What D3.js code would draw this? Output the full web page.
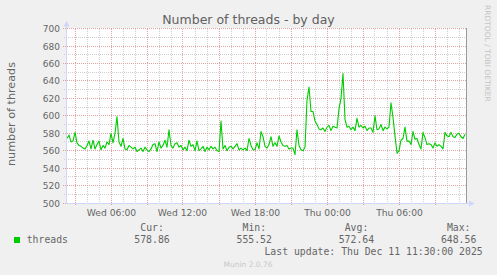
<!DOCTYPE html>
<html><head><meta charset="utf-8">
<script src="https://cdn.jsdelivr.net/npm/d3@7"></script>
<style>html,body{margin:0;padding:0;background:#f0f0f0;overflow:hidden}</style>
</head><body>
<svg id="c" width="497" height="275"></svg>
<script>
// ---------- data ----------
const chartTitle = "Number of threads - by day";
const yAxisTitle = "number of threads";
const watermark = "RRDTOOL / TOBI OETIKER";
const footer = "Munin 2.0.76";
const yTickValues = [500, 520, 540, 560, 580, 600, 620, 640, 660, 680, 700];
const xTickTimes = ["2025-12-10T06:00:00Z", "2025-12-10T12:00:00Z", "2025-12-10T18:00:00Z", "2025-12-11T00:00:00Z", "2025-12-11T06:00:00Z"];
const xTickLabels = ["Wed 06:00", "Wed 12:00", "Wed 18:00", "Thu 00:00", "Thu 06:00"];
const seriesName = "threads";
const seriesStart = "2025-12-10T02:20:00Z";
const seriesStepMinutes = 10;
const threads = [
  574, 578, 570, 571, 581, 569, 566, 565, 563, 562,
  566, 571, 562, 572, 562, 567, 571, 561, 566, 563,
  570, 567, 580, 569, 580, 599, 570, 565, 574, 562,
  561, 566, 564, 562, 564, 559, 561, 563, 559, 564,
  561, 559, 562, 567, 568, 559, 570, 563, 566, 572,
  564, 584, 566, 563, 568, 569, 564, 566, 561, 564,
  560, 572, 565, 567, 560, 571, 560, 562, 565, 559,
  564, 561, 565, 562, 564, 560, 559, 594, 562, 566,
  560, 564, 565, 562, 565, 568, 561, 563, 561, 563,
  560, 574, 566, 561, 561, 569, 562, 582, 576, 565,
  563, 567, 576, 565, 569, 565, 577, 570, 566, 565,
  566, 562, 563, 563, 555.52, 584, 566, 561, 560, 564,
  618, 633, 605, 605, 594, 590, 585, 584, 586, 582,
  587, 589, 583, 588, 587, 586, 608, 620, 648.56, 596,
  587, 588, 584, 587, 583, 597, 587, 589, 586, 588,
  583, 586, 586, 581, 600, 584, 585, 590, 583, 587,
  585, 587, 615, 598, 577, 557, 560, 572, 574, 587,
  571, 571, 567, 582, 573, 574, 567, 562, 581, 575,
  567, 568, 567, 563, 569, 565, 567, 565, 562, 581,
  577, 576, 581, 576, 575, 579, 580, 576, 574, 578.86
];
const legendHeaders = ["Cur:", "Min:", "Avg:", "Max:"];
const legendValues = ["578.86", "555.52", "572.64", "648.56"];
const lastUpdate = "Last update: Thu Dec 11 11:30:00 2025";

// ---------- drawing ----------
const svg = d3.select("#c");
const sans = "'DejaVu Sans', Verdana, sans-serif";
const mono = "'DejaVu Sans Mono', monospace";
const fontColor = "#666666";
const axisColor = "#CFD6F8";

const t0 = new Date(Date.UTC(2025, 11, 10, 2, 15));
const t1 = new Date(t0.getTime() + 400 * 300 * 1000);
const x = d3.scaleUtc().domain([t0, t1]).range([66, 466]);
const y = d3.scaleLinear().domain([500, 700]).range([203, 28.6]);
const snap = v => Math.round(v - 0.5) + 0.5;

svg.append("rect").attr("width", 497).attr("height", 275).attr("fill", "#f0f0f0");
svg.append("rect").attr("x", 66).attr("y", 28).attr("width", 401).attr("height", 175.5).attr("fill", "#ffffff");

const grid = svg.append("g").attr("shape-rendering", "crispEdges");
// horizontal minor grid
const yMinor = d3.range(510, 700, 20);
grid.selectAll(".hmin").data(yMinor).join("line")
  .attr("x1", 64).attr("x2", 466)
  .attr("y1", d => snap(y(d))).attr("y2", d => snap(y(d)))
  .attr("stroke", "#cfcfcf").attr("stroke-dasharray", "1,1");
// vertical minor grid (hourly)
const hours = d3.utcHour.range(t0, t1);
grid.selectAll(".vmin").data(hours.filter(h => h.getUTCHours() % 3 !== 0)).join("line")
  .attr("x1", d => snap(x(d))).attr("x2", d => snap(x(d)))
  .attr("y1", 28.5).attr("y2", 203)
  .attr("stroke", "#cfcfcf").attr("stroke-dasharray", "1,1");
// horizontal major grid
grid.selectAll(".hmaj").data(yTickValues).join("line")
  .attr("x1", 63).attr("x2", 466)
  .attr("y1", d => snap(y(d))).attr("y2", d => snap(y(d)))
  .attr("stroke", "#e0a4a4").attr("stroke-dasharray", "1,1");
// vertical major grid (every 3 hours)
grid.selectAll(".vmaj").data(hours.filter(h => h.getUTCHours() % 3 === 0)).join("line")
  .attr("x1", d => snap(x(d))).attr("x2", d => snap(x(d)))
  .attr("y1", 28.5).attr("y2", 206)
  .attr("stroke", "#e0a4a4").attr("stroke-dasharray", "1,1");

// data line
const startMs = Date.parse(seriesStart);
const pts = threads.map((v, i) => ({ t: new Date(startMs + i * seriesStepMinutes * 60000), v }));
svg.append("path").datum(pts)
  .attr("d", d3.line().x(d => x(d.t)).y(d => y(d.v)))
  .attr("fill", "none").attr("stroke", "#00cc00").attr("stroke-width", 1.1)
  .attr("stroke-linejoin", "round");

// axes
svg.append("line").attr("x1", 66.5).attr("x2", 66.5).attr("y1", 204).attr("y2", 25)
  .attr("stroke", axisColor).attr("shape-rendering", "crispEdges");
svg.append("line").attr("x1", 66).attr("x2", 470).attr("y1", 203.5).attr("y2", 203.5)
  .attr("stroke", axisColor).attr("shape-rendering", "crispEdges");
svg.append("path").attr("d", "M63.5,26.5L66.5,20.8L69.5,26.5Z").attr("fill", axisColor);
svg.append("path").attr("d", "M469,200.5L474.7,203.5L469,206.5Z").attr("fill", axisColor);
svg.append("line").attr("x1", 466.5).attr("x2", 466.5).attr("y1", 28).attr("y2", 203)
  .attr("stroke", "#9a9a9a").attr("shape-rendering", "crispEdges");

// title
svg.append("text").attr("x", 248.5).attr("y", 24).attr("text-anchor", "middle")
  .attr("font-family", sans).attr("font-size", 12.5).attr("fill", "#606060").text(chartTitle);

// y tick labels
svg.selectAll(".yl").data(yTickValues).join("text")
  .attr("x", 60).attr("y", d => snap(y(d)) + 3.3).attr("text-anchor", "end")
  .attr("font-family", sans).attr("font-size", 9).attr("fill", fontColor).text(d => d);

// x tick labels
svg.selectAll(".xl").data(xTickTimes).join("text")
  .attr("x", d => snap(x(new Date(d)))).attr("y", 216).attr("text-anchor", "middle")
  .attr("font-family", sans).attr("font-size", 9.2).attr("fill", fontColor)
  .text((d, i) => xTickLabels[i]);

// y axis title
svg.append("text").attr("transform", "translate(15.3,114) rotate(-90)").attr("text-anchor", "middle")
  .attr("font-family", sans).attr("font-size", 11.2).attr("fill", fontColor).text(yAxisTitle);

// watermark
svg.append("text").attr("transform", "translate(485,53.3) rotate(90)").attr("text-anchor", "middle")
  .attr("font-family", sans).attr("font-size", 7.5).attr("fill", "#c4c4c4").text(watermark);

// legend
svg.append("rect").attr("x", 14).attr("y", 237).attr("width", 6).attr("height", 6).attr("fill", "#00cc00");
svg.append("text").attr("x", 26.7).attr("y", 243).attr("font-family", mono).attr("font-size", 9.8)
  .attr("fill", fontColor).text(seriesName);
const colX = i => 134.3 + i * 102.2;
svg.selectAll(".lh").data(legendHeaders).join("text")
  .attr("x", (d, i) => colX(i) + 6).attr("y", 231)
  .attr("font-family", mono).attr("font-size", 9.8).attr("fill", fontColor).text(d => d);
svg.selectAll(".lv").data(legendValues).join("text")
  .attr("x", (d, i) => colX(i)).attr("y", 243)
  .attr("font-family", mono).attr("font-size", 9.8).attr("fill", fontColor).text(d => d);
svg.append("text").attr("x", 482.7).attr("y", 254.6).attr("text-anchor", "end")
  .attr("font-family", mono).attr("font-size", 9.8).attr("fill", fontColor).text(lastUpdate);

// footer
svg.append("text").attr("x", 248).attr("y", 267.3).attr("text-anchor", "middle")
  .attr("font-family", sans).attr("font-size", 7.5).attr("fill", "#c8c8c8").text(footer);
</script>
</body></html>
